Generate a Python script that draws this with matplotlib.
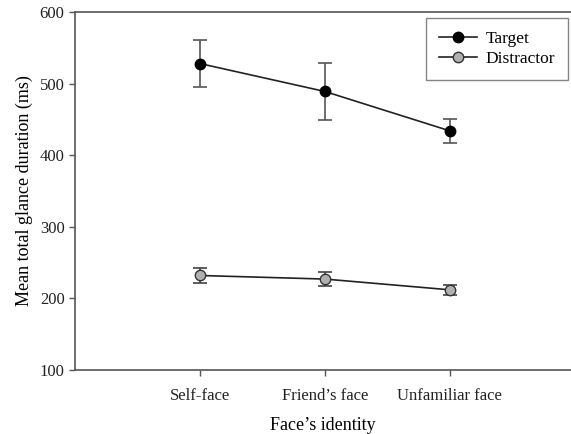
import matplotlib
matplotlib.use("Agg")
import matplotlib.pyplot as plt
from matplotlib.lines import Line2D

categories = ["Self-face", "Friend\u2019s face", "Unfamiliar face"]
target_mean = [528, 489, 434]
target_err = [33, 40, 17]
distractor_mean = [232, 227, 212]
distractor_err = [10, 10, 7]
yticks = [100, 200, 300, 400, 500, 600]

plt.rcParams['font.family'] = ['Liberation Serif', 'DejaVu Serif']

fig = plt.figure(figsize=(5.71, 4.34), dpi=100)
ax = fig.add_axes([75/571, 64/434, 1 - 75/571, 358/434])

x = [1, 2, 3]
ax.errorbar(x, target_mean, yerr=target_err, color='#222222', ecolor='#555555',
            elinewidth=1.2, capsize=5, capthick=1.2, lw=1.2, marker='o',
            markersize=7.5, markerfacecolor='black', markeredgecolor='black',
            zorder=3)
ax.errorbar(x, distractor_mean, yerr=distractor_err, color='#222222', ecolor='#444444',
            elinewidth=1.2, capsize=5, capthick=1.2, lw=1.2, marker='o',
            markersize=7.5, markerfacecolor='#b0b0b0', markeredgecolor='#333333',
            zorder=3)

ax.set_xlim(0, 3.97)
ax.set_ylim(100, 600)
ax.set_xticks(x)
ax.set_xticklabels(categories, fontsize=12)
ax.set_yticks(yticks)
ax.set_yticklabels([str(v) for v in yticks], fontsize=12)
ax.set_xlabel("Face\u2019s identity", fontsize=13, labelpad=9)
ax.set_ylabel("Mean total glance duration (ms)", fontsize=13, labelpad=5)

for s in ['left', 'top', 'bottom']:
    ax.spines[s].set_color('#555555')
    ax.spines[s].set_linewidth(1.2)
ax.spines['right'].set_visible(False)
ax.tick_params(direction='out', length=4, width=1, colors='#555555', labelcolor='#222222')
ax.tick_params(axis='x', pad=9)

handles = [
    Line2D([], [], color='#222222', lw=1.2, marker='o', markersize=7.5,
           markerfacecolor='black', markeredgecolor='black', label='Target'),
    Line2D([], [], color='#222222', lw=1.2, marker='o', markersize=7.5,
           markerfacecolor='#b0b0b0', markeredgecolor='#333333', label='Distractor'),
]
leg = ax.legend(handles=handles, loc='upper right', bbox_to_anchor=(0.994, 0.983),
                borderaxespad=0, fontsize=12.5, frameon=True, fancybox=False,
                edgecolor='#666666', handlelength=2.2, borderpad=0.75,
                labelspacing=0.2, handletextpad=0.5)
leg.get_frame().set_linewidth(1.0)

fig.savefig("out.png", dpi=100)
